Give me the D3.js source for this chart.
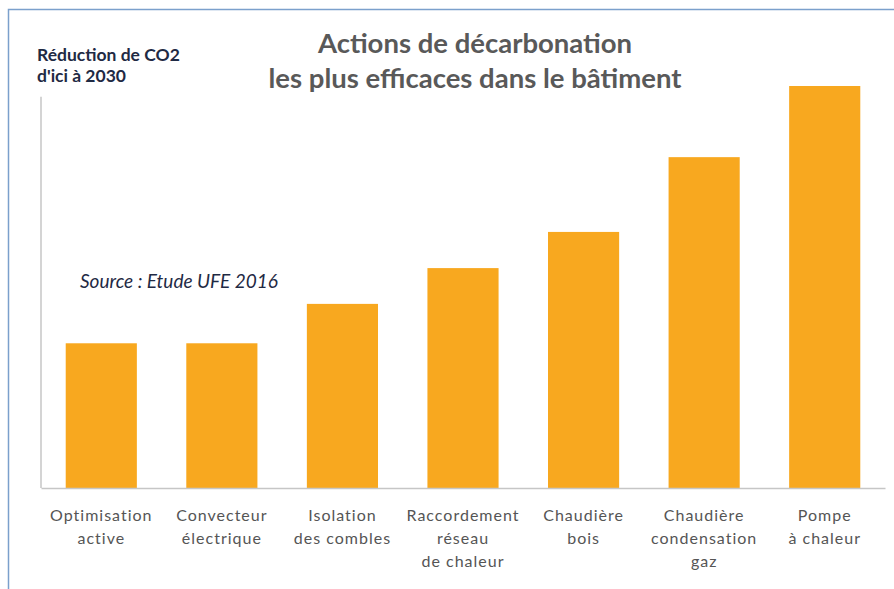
<!DOCTYPE html>
<html>
<head>
<meta charset="utf-8">
<script src="https://cdn.jsdelivr.net/npm/d3@7"></script>
<style>
  body { margin: 0; background: #fff; }
  svg { display: block; font-family: Lato, "Open Sans", sans-serif; }
</style>
</head>
<body>
<div id="chart"></div>
<script>
// data (relative reduction, tallest bar = 100)
var categories = [
  ["Optimisation", "active"],
  ["Convecteur", "électrique"],
  ["Isolation", "des combles"],
  ["Raccordement", "réseau", "de chaleur"],
  ["Chaudière", "bois"],
  ["Chaudière", "condensation", "gaz"],
  ["Pompe", "à chaleur"]
];
var values = [36, 36, 45.8, 54.7, 63.7, 82.3, 100];
var titleLines = ["Actions de décarbonation", "les plus efficaces dans le bâtiment"];
var yLabelLines = ["Réduction de CO2", "d'ici à 2030"];
var sourceText = "Source : Etude UFE 2016";

var svgWidth = 894;
var svgHeight = 589;

var margin = { top: 86, right: 9, bottom: 101, left: 41 };
var width = svgWidth - margin.left - margin.right;
var height = svgHeight - margin.top - margin.bottom;

var svg = d3.select("#chart")
  .append("svg")
  .attr("width", svgWidth)
  .attr("height", svgHeight);

// frame of the picture
svg.append("path")
  .attr("d", "M8.5,589 V9.5 H894")
  .attr("fill", "none")
  .attr("stroke", "#7ba0cc")
  .attr("stroke-width", 1.5);

var chartGroup = svg.append("g")
  .attr("transform", `translate(${margin.left}, ${margin.top})`);

var x = d3.scaleBand()
  .domain(d3.range(categories.length))
  .range([0, width])
  .paddingInner(0.41)
  .paddingOuter(0.205);

var y = d3.scaleLinear()
  .domain([0, 100])
  .range([height, 0]);

chartGroup.selectAll("rect")
  .data(values)
  .enter()
  .append("rect")
  .attr("x", (d, i) => x(i))
  .attr("y", d => y(d))
  .attr("width", x.bandwidth())
  .attr("height", d => height - y(d))
  .attr("fill", "#f8a81f");

// axes: plain gray lines, no ticks
var xAxis = chartGroup.append("g")
  .attr("transform", `translate(0, ${height})`)
  .call(d3.axisBottom(x).tickSize(0).tickFormat(""));
xAxis.select(".domain").attr("stroke", "#c6c6c6").attr("stroke-width", 1.5);

var yAxis = chartGroup.append("g")
  .call(d3.axisLeft(y).tickSize(0).tickFormat("").tickValues([]));
yAxis.select(".domain").attr("stroke", "#c6c6c6").attr("stroke-width", 1.5)
  .attr("d", `M0,${height}V${y(97.3)}`);

// category labels
var labels = chartGroup.selectAll(".cat")
  .data(categories)
  .enter()
  .append("text")
  .attr("class", "cat")
  .attr("text-anchor", "middle")
  .attr("fill", "#555555")
  .style("font-size", "16px")
  .style("letter-spacing", "1px")
  .attr("transform", (d, i) => `translate(${x(i) + x.bandwidth() / 2}, ${height + 33})`);

labels.selectAll("tspan")
  .data(d => d)
  .enter()
  .append("tspan")
  .attr("x", 0)
  .attr("y", (d, i) => i * 23)
  .text(d => d);

// title
svg.append("text")
  .attr("text-anchor", "middle")
  .attr("fill", "#595959")
  .style("font-size", "27.5px")
  .style("font-weight", "bold")
  .selectAll("tspan")
  .data(titleLines)
  .enter()
  .append("tspan")
  .attr("x", 475)
  .attr("y", (d, i) => 53 + i * 35)
  .text(d => d);

// y label
svg.append("text")
  .attr("fill", "#1f2a44")
  .style("font-size", "17.5px")
  .style("font-weight", "bold")
  .selectAll("tspan")
  .data(yLabelLines)
  .enter()
  .append("tspan")
  .attr("x", 37)
  .attr("y", (d, i) => 61 + i * 21)
  .text(d => d);

// source note
svg.append("text")
  .attr("x", 80)
  .attr("y", 288)
  .attr("fill", "#1f2a44")
  .style("font-size", "19px")
  .style("font-style", "italic")
  .text(sourceText);
</script>
</body>
</html>
